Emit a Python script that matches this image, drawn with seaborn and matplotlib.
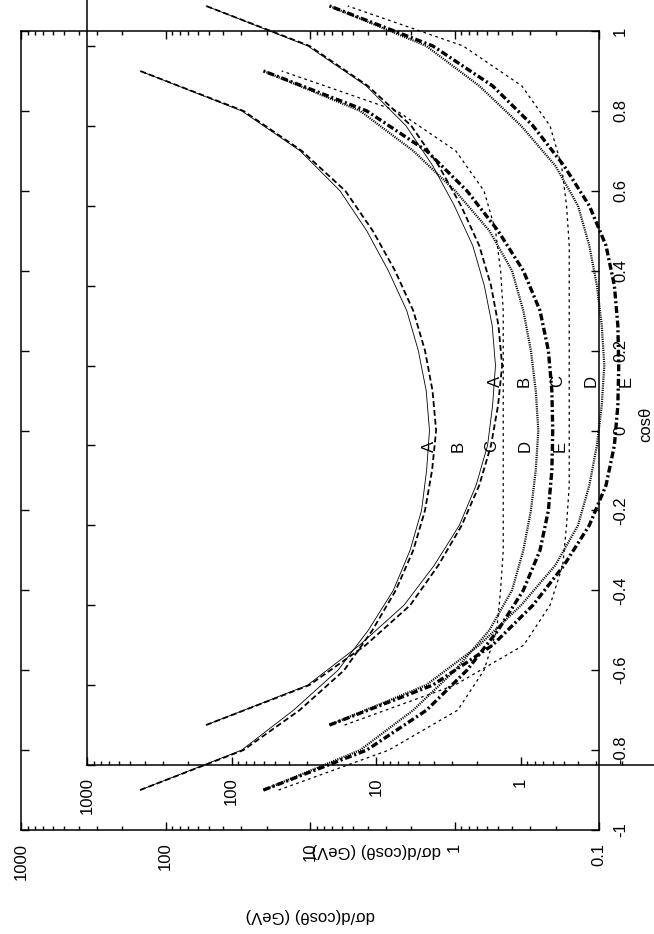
import matplotlib
matplotlib.use("Agg")
import matplotlib.pyplot as plt
from matplotlib.ticker import LogLocator, NullFormatter
import seaborn as sns

sns.set_style("white", {"axes.edgecolor": "black", "xtick.color": "black",
                        "ytick.color": "black", "text.color": "black",
                        "axes.labelcolor": "black"})
plt.rcParams["font.family"] = ["Liberation Sans", "DejaVu Sans"]
plt.rcParams["lines.scale_dashes"] = False

# cos(theta) grid of the curves
cos_theta = [-0.9, -0.8, -0.7, -0.6, -0.5, -0.4, -0.3, -0.2, -0.1, 0.0,
             0.1, 0.2, 0.3, 0.4, 0.5, 0.6, 0.7, 0.8, 0.9]

# d sigma / d cos(theta) in GeV
curve_a = [150, 29.7, 13.0, 6.4, 3.95, 2.65, 2.03, 1.69, 1.56, 1.49,
           1.57, 1.78, 2.14, 2.87, 4.05, 6.2, 11.7, 29.7, 150]
curve_b = [150, 28.9, 11.8, 5.8, 3.7, 2.55, 1.93, 1.6, 1.43, 1.34,
           1.42, 1.6, 1.93, 2.58, 3.68, 5.7, 11.4, 28.9, 150]
curve_c = [16.5, 2.85, 0.95, 0.625, 0.51, 0.48, 0.46, 0.46, 0.46, 0.46,
           0.46, 0.46, 0.46, 0.48, 0.52, 0.625, 0.98, 2.5, 15.7]
curve_d = [21, 4.5, 1.93, 0.99, 0.574, 0.40, 0.334, 0.296, 0.274, 0.263,
           0.274, 0.296, 0.334, 0.40, 0.574, 0.99, 1.93, 4.5, 21]
curve_e = [21, 4.05, 1.56, 0.82, 0.50, 0.334, 0.256, 0.224, 0.212, 0.209,
           0.212, 0.224, 0.256, 0.334, 0.50, 0.82, 1.56, 4.05, 21]

curve_names = ["A", "B", "C", "D", "E"]
label_vals = [1.48, 0.95, 0.55, 0.325, 0.186]
label_cos = -0.04

val_ticks = [1000, 100, 10, 1, 0.1]
val_text = ["1000", "100", "10", "1", "0.1"]
cos_ticks = [-1, -0.8, -0.6, -0.4, -0.2, 0, 0.2, 0.4, 0.6, 0.8, 1]
cos_text = ["-1", "-0.8", "-0.6", "-0.4", "-0.2", "0", "0.2", "0.4", "0.6", "0.8", "1"]

line_styles = {
    "A": dict(lw=0.6, linestyle="-"),
    "B": dict(lw=1.3, linestyle=(0, (4.2, 2.2))),
    "C": dict(lw=0.9, linestyle=(0, (2, 2.5))),
    "D": dict(lw=1.6, linestyle=(0, (0.8, 0.8))),
    "E": dict(lw=2.4, linestyle=(0, (5, 2, 1.5, 2))),
}


def draw_panel(ax, right_labels=True):
    ax.set_facecolor("none")
    ax.set_xscale("log")
    curves = [curve_a, curve_b, curve_c, curve_d, curve_e]
    for name, vals in zip(curve_names, curves):
        sns.lineplot(x=vals, y=cos_theta, ax=ax, sort=False, orient="y",
                     estimator=None, color="black", **line_styles[name])
    for name, v in zip(curve_names, label_vals):
        ax.text(v, label_cos, name, rotation=90, ha="center", va="center",
                fontsize=12)

    ax.set_xlim(1000, 0.1)
    ax.set_ylim(-1, 1)
    ax.set_xticks(val_ticks, val_text)
    ax.xaxis.set_minor_locator(LogLocator(base=10, subs=range(2, 10), numticks=20))
    ax.xaxis.set_minor_formatter(NullFormatter())
    ax.set_yticks(cos_ticks, cos_text)

    ax.tick_params(axis="both", which="both", direction="in", top=True,
                   bottom=True, left=True, right=True, labelsize=12,
                   color="black", width=1.0)
    ax.tick_params(axis="both", which="major", length=6)
    ax.tick_params(axis="x", which="minor", length=3)
    ax.tick_params(axis="x", labelrotation=90, pad=9)
    ax.tick_params(axis="y", labelleft=False, labelright=right_labels,
                   labelrotation=90, pad=10)
    for lbl in ax.get_yticklabels():
        lbl.set_va("center")
        lbl.set_ha("left")

    for sp in ax.spines.values():
        sp.set_linewidth(1.1)
        sp.set_color("black")

    ax.set_xlabel("dσ/d(cosθ) (GeV)", rotation=180, fontsize=12, va="center", ha="center")
    ax.xaxis.set_label_coords(0.5, -0.1064)
    if right_labels:
        ax.yaxis.set_label_position("right")
        ax.set_ylabel("cosθ", rotation=90, fontsize=12, va="center", ha="center")
        ax.yaxis.set_label_coords(1.081, 0.508)
    else:
        ax.set_ylabel("")


fig = plt.figure(figsize=(6.54, 9.34), dpi=100)
fig.patch.set_facecolor("white")

# the same plot twice, the second one shifted up and to the right
# (its right-hand labels fall outside the page)
outer = fig.add_axes([21 / 654, 104 / 934, 578 / 654, 799 / 934])
inner = fig.add_axes([87 / 654, 169 / 934, 578 / 654, 799 / 934])
draw_panel(outer)
draw_panel(inner, right_labels=False)

fig.savefig("out.png", dpi=100)
